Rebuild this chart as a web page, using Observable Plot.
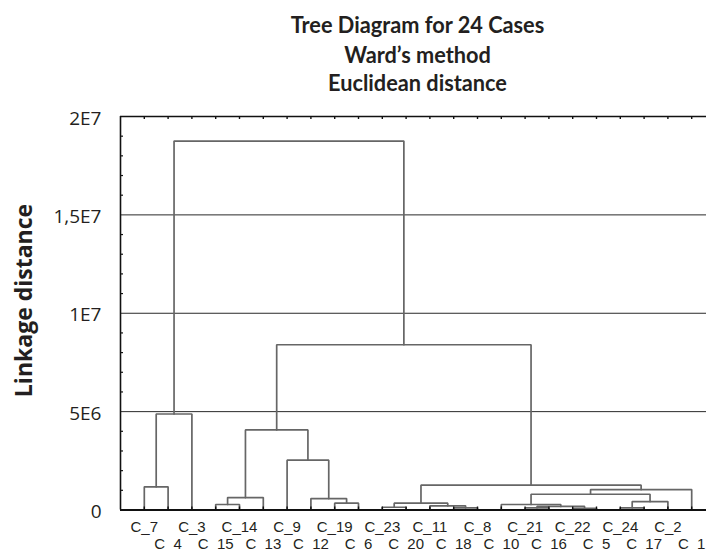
<!DOCTYPE html>
<html><head><meta charset="utf-8">
<script src="https://cdn.jsdelivr.net/npm/d3@7"></script>
<script src="https://cdn.jsdelivr.net/npm/@observablehq/plot@0.6"></script>
<style>
html,body{margin:0;padding:0;background:#fff;overflow:hidden;width:706px;height:549px;}
#title{height:98px;width:706px;position:relative;font-family:Lato,"Open Sans",sans-serif;font-weight:700;color:#231f20;overflow:visible;}
#title div{position:absolute;left:0;width:835px;text-align:center;font-size:23px;line-height:23px;white-space:nowrap;transform:scaleX(0.945);transform-origin:417.5px 0;}
#chart svg{display:block;}
</style></head><body>
<div id="title"></div>
<div id="chart"></div>
<script>
// ---- data ----
const titleLines = ["Tree Diagram for 24 Cases", "Ward’s method", "Euclidean distance"];
const yLabel = "Linkage distance";
const leaves = ["C_7","C_4","C_3","C_15","C_14","C_13","C_9","C_12","C_19","C_6","C_23","C_20",
                "C_11","C_18","C_8","C_10","C_21","C_16","C_22","C_5","C_24","C_17","C_2","C_1"];
// merge k creates cluster "M{k+1}"
const mergeLeft  = ["C_7","M1","C_15","M3","C_19","C_12","C_9","M4","C_23","C_18","C_11","M9",
                    "C_21","C_22","M13","C_10","C_24","M17","M16","M19","M12","M8","M2"];
const mergeRight = ["C_4","C_3","C_14","C_13","C_6","M5","M6","M7","C_20","C_8","M10","M11",
                    "C_16","C_5","M14","M15","C_17","C_2","M18","C_1","M20","M21","M22"];
const mergeHeight = [1.18e6, 4.88e6, 2.8e5, 6.3e5, 3.45e5, 5.8e5, 2.53e6, 4.07e6, 1.4e5, 1.1e5, 2.1e5, 3.45e5,
                     1.1e5, 9e4, 1.8e5, 2.8e5, 1.1e5, 4.3e5, 8.0e5, 1.04e6, 1.26e6, 8.4e6, 1.875e7];
const yTicks = [0, 5e6, 1e7, 1.5e7, 2e7];
const yTickLabels = ["0", "5E6", "1E7", "1,5E7", "2E7"];
const yGrid = [5e6, 1e7, 1.5e7];
const yMinorTicks = [1e6,2e6,3e6,4e6,6e6,7e6,8e6,9e6,11e6,12e6,13e6,14e6,16e6,17e6,18e6,19e6];

// ---- title ----
const tops = [12.9, 42.9, 71.3];
const tEl = document.getElementById("title");
titleLines.forEach((t, i) => {
  const d = document.createElement("div");
  d.textContent = t;
  d.style.top = tops[i] + "px";
  tEl.appendChild(d);
});

// ---- tree geometry ----
const pos = new Map(leaves.map((n, i) => [n, {x: i + 1, h: 0}]));
const pts = [];
mergeLeft.forEach((l, k) => {
  const a = pos.get(l), b = pos.get(mergeRight[k]), h = mergeHeight[k];
  pts.push({id: k, x: a.x, y: a.h}, {id: k, x: a.x, y: h}, {id: k, x: b.x, y: h}, {id: k, x: b.x, y: b.h});
  pos.set("M" + (k + 1), {x: (a.x + b.x) / 2, h});
});
const leafIdx = leaves.map((_, i) => i + 1);
const row1 = leafIdx.filter(i => i % 2 === 1);
const row2 = leafIdx.filter(i => i % 2 === 0);

const W = 706, H = 451, mL = 120, mR = 0, mT = 18, mB = 39.5;
const plotH = H - mT - mB, plotW = W - mL - mR;
const unit = 23.8;

const chart = Plot.plot({
  width: W, height: H,
  marginLeft: mL, marginRight: mR, marginTop: mT, marginBottom: mB,
  x: {domain: [0, plotW / unit], axis: null},
  y: {domain: [0, 2e7], axis: null},
  style: {background: "#fff", color: "#231f20"},
  marks: [
    Plot.ruleY(yGrid, {y: d => d, stroke: "#2a2a2a", strokeWidth: 1}),
    Plot.line(pts, {x: "x", y: "y", z: "id", stroke: "#666", strokeWidth: 1.7, curve: "linear", strokeLinejoin: "miter"}),
    Plot.ruleX([0], {x: d => d, stroke: "#111", strokeWidth: 1.6}),
    Plot.ruleY([2e7], {y: d => d, stroke: "#111", strokeWidth: 1.6}),
    Plot.ruleY([0], {y: d => d, stroke: "#111", strokeWidth: 2}),
    Plot.ruleX(leafIdx, {x: d => d, stroke: "#111", strokeWidth: 1.4, insetBottom: plotH - 3}),
    Plot.ruleX(leafIdx, {x: d => d, stroke: "#111", strokeWidth: 1.4, insetTop: plotH - 3}),
    Plot.ruleY(yMinorTicks, {y: d => d, stroke: "#111", strokeWidth: 1.2, insetRight: plotW - 3}),
    Plot.text(yTicks, {y: d => d, text: (d, i) => yTickLabels[i], frameAnchor: "left", textAnchor: "end", dx: -19, dy: 2,
      fontSize: 19, fontFamily: "Open Sans", fill: "#231f20"}),
    Plot.text([yLabel], {text: d => d, frameAnchor: "left", rotate: -90, lineAnchor: "bottom", textAnchor: "middle",
      dx: -89, dy: -12.75, fontSize: 23, fontWeight: "bold", fontFamily: "Open Sans", fill: "#231f20"}),
    Plot.text(row1, {x: d => d, text: d => leaves[d - 1], frameAnchor: "bottom", lineAnchor: "bottom", dy: 21.5,
      fontSize: 15, fontFamily: "Liberation Sans", fill: "#231f20"}),
    Plot.text(row2, {x: d => d, text: d => leaves[d - 1], frameAnchor: "bottom", lineAnchor: "bottom", dy: 38.8,
      fontSize: 15, fontFamily: "Liberation Sans", fill: "#231f20"})
  ]
});
document.getElementById("chart").appendChild(chart);
</script>
</body></html>
